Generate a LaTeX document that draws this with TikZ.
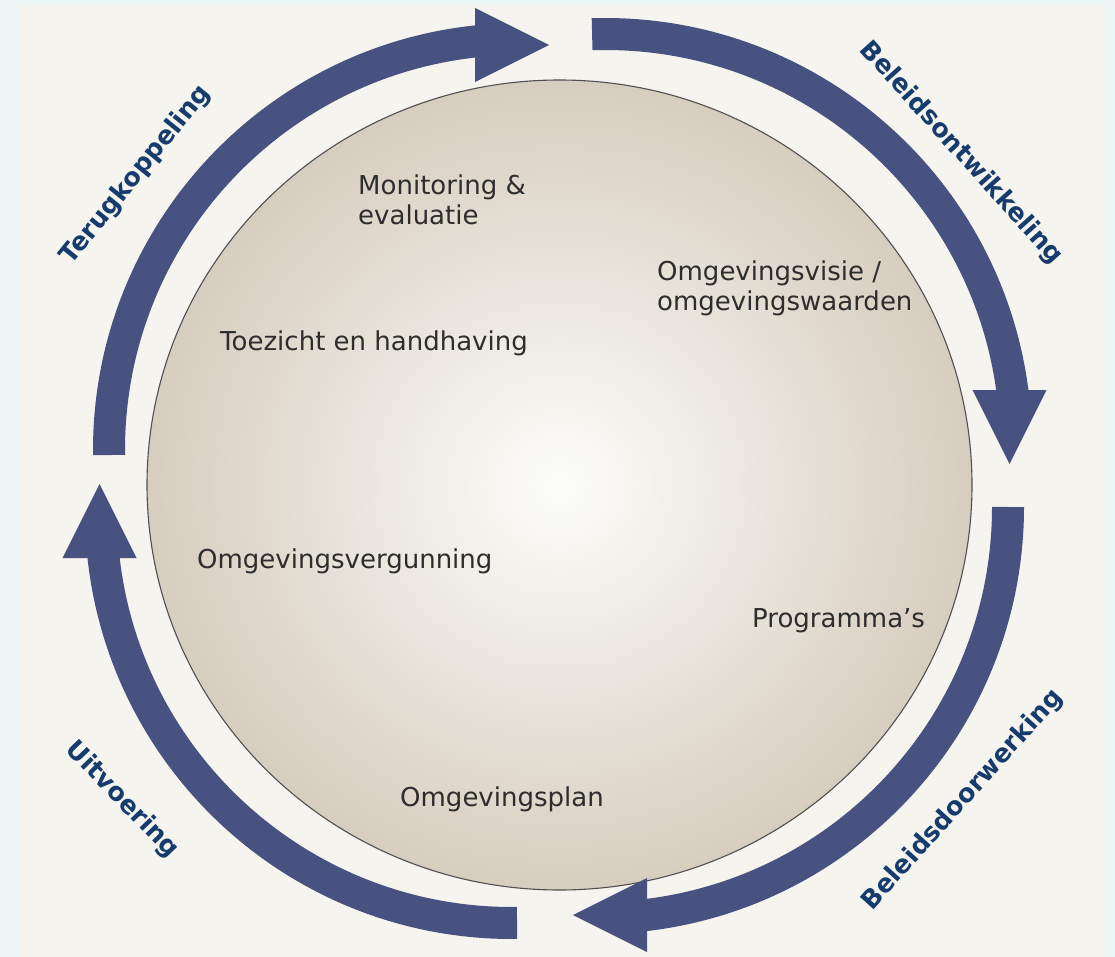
\documentclass[tikz,border=0pt]{standalone}
\usepackage{fontspec}
\setmainfont{DejaVu Sans}
\usetikzlibrary{calc}
\definecolor{outerbg}{RGB}{238,247,247}
\definecolor{panelbg}{RGB}{245,244,239}
\definecolor{arrowc}{RGB}{71,82,128}
\definecolor{labelc}{RGB}{22,60,110}
\definecolor{textc}{RGB}{45,45,45}
\definecolor{discin}{RGB}{253,253,251}
\definecolor{discout}{RGB}{214,206,190}
\definecolor{discline}{RGB}{80,80,80}
\tikzset{
  shaft/.style={draw=arrowc, line width=32pt, line cap=butt},
  head/.style={fill=arrowc},
  inner/.style={font=\fontsize{26}{30}\selectfont, text=textc, inner sep=0pt, anchor=west, align=left},
  phase/.style={font=\fontsize{25.5}{30}\selectfont\bfseries, text=labelc, inner sep=0pt}
}
\newcommand{\cyclearrow}[8]{% center x, center y, start, end, head base x, head base y, head dir, name
  \draw[shaft] ($(#1,#2)+(#3:411)$) arc[start angle=#3, end angle=#4, radius=411];
  \coordinate (#8) at (#5,#6);
  \fill[head] ($(#8)+(#7:74)$) -- ($(#8)+(#7+90:37)$) -- ($(#8)+(#7-90:37)$) -- cycle;
}
\begin{document}
\begin{tikzpicture}[x=1pt,y=-1pt]
\fill[outerbg] (0,0) rectangle (1115,957);
\useasboundingbox (0,0) rectangle (1115,957);
\fill[panelbg] (19,5) rectangle (1105,957);
% disc
\shade[inner color=discin, outer color=discout] (559.5,485) ellipse [x radius=412.5, y radius=405];
\draw[discline, line width=1.1pt] (559.5,485) ellipse [x radius=412.5, y radius=405];
% arrows (visual angles, y downward)
\cyclearrow{520}{450}{179.3}{266.5}{475}{45}{0}{hTL}
\cyclearrow{605}{445}{268.2}{355}{1009.5}{390}{90}{hTR}
\cyclearrow{597}{507}{0}{85.5}{647}{915}{180}{hBR}
\cyclearrow{512}{512}{89.3}{176.5}{99.5}{558}{270}{hBL}
% phase labels
\node[phase, rotate=51] (terug) at (136,175) {Terugkoppeling};
\node[phase, rotate=-48] (bontw) at (961,153) {Beleidsontwikkeling};
\node[phase, rotate=48] (bdoor) at (963,800) {Beleidsdoorwerking};
\node[phase, rotate=-46] (uitv) at (122,800) {Uitvoering};
% inner texts
\node[inner] (mon) at (358,200) {Monitoring \&\\evaluatie};
\node[inner] (visie) at (657,288) {Omgevingsvisie /\\omgevingswaarden};
\node[inner] (toez) at (220,343) {Toezicht en handhaving};
\node[inner] (verg) at (197,561) {Omgevingsvergunning};
\node[inner] (prog) at (752,621) {Programma’s};
\node[inner] (plan) at (400,799) {Omgevingsplan};
\end{tikzpicture}
\end{document}
